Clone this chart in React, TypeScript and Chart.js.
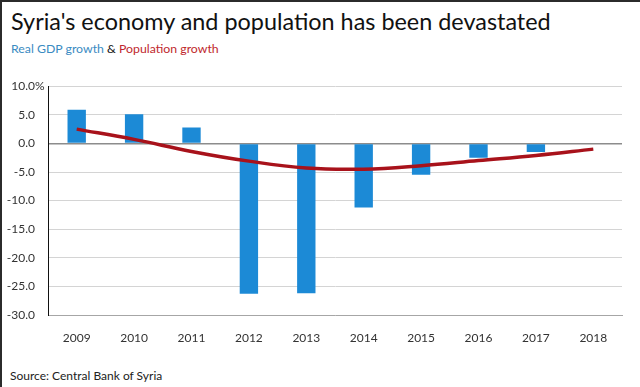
import React, { useEffect, useRef } from "react";
import { Chart, registerables } from "chart.js";

Chart.register(...registerables);

const years = ["2009", "2010", "2011", "2012", "2013", "2014", "2015", "2016", "2017", "2018"];
const gdpGrowth = [5.9, 5.1, 2.8, -26.3, -26.2, -11.2, -5.5, -2.5, -1.5, null];
const populationGrowth = [2.5, 0.7, -1.4, -3.1, -4.3, -4.5, -3.9, -3.0, -2.1, -1.0];
const yMin = -30;
const yMax = 10;
const yStep = 5;

const FONT = "Lato, 'Open Sans', sans-serif";

const percentPlugin = {
  id: "percentTop",
  afterDraw(chart: any) {
    const y = chart.scales.y;
    const ctx = chart.ctx;
    ctx.save();
    ctx.font = `12px ${FONT}`;
    ctx.fillStyle = "#333333";
    ctx.textAlign = "left";
    ctx.textBaseline = "middle";
    const px = y.getPixelForValue(yMax);
    const right = y.right - y.options.ticks.padding;
    ctx.fillText("%", right, px);
    ctx.restore();
  },
};

export default function App() {
  const ref = useRef<HTMLCanvasElement | null>(null);
  useEffect(() => {
    document.body.style.margin = "0";
    if (!ref.current) return;
    const chart = new Chart(ref.current, {
      type: "bar",
      data: {
        labels: years,
        datasets: [
          {
            type: "line",
            label: "Population growth",
            data: populationGrowth,
            borderColor: "#A8121B",
            borderWidth: 3.5,
            pointRadius: 0,
            tension: 0.4,
            fill: false,
            order: 0,
          } as any,
          {
            type: "bar",
            label: "Real GDP growth",
            data: gdpGrowth,
            backgroundColor: "#1C8AD6",
            borderWidth: 0,
            barPercentage: 0.32,
            categoryPercentage: 1,
            order: 1,
          },
        ],
      },
      options: {
        animation: false,
        responsive: false,
        maintainAspectRatio: false,
        layout: { padding: { left: 0, right: 18, top: 0, bottom: 0 } },
        plugins: {
          legend: { display: false },
          tooltip: { enabled: false },
          title: { display: false },
        },
        scales: {
          x: {
            grid: { display: false, drawTicks: false },
            border: { display: true, color: "#a6a6a6", width: 1 },
            ticks: {
              color: "#333333",
              font: { family: FONT, size: 12 },
              padding: 16,
              maxRotation: 0,
            },
            afterFit: (s: any) => {
              s.height = 45;
            },
          },
          y: {
            min: yMin,
            max: yMax,
            grid: {
              drawTicks: false,
              color: (c: any) => (c.tick && c.tick.value === 0 ? "#8c8c8c" : "#d4d4d4"),
              lineWidth: (c: any) => (c.tick && c.tick.value === 0 ? 1.5 : 1),
            },
            border: { display: true, color: "#111111", width: 1 },
            ticks: {
              stepSize: yStep,
              color: "#333333",
              font: { family: FONT, size: 12 },
              padding: 13,
              callback: (v: any) => Number(v).toFixed(1),
            },
            afterFit: (s: any) => {
              s.width = 48;
            },
          },
        },
      },
      plugins: [percentPlugin],
    });
    return () => chart.destroy();
  }, []);

  return (
    <div
      style={{
        position: "absolute",
        left: 0,
        top: 0,
        width: 640,
        height: 387,
        background: "#fff",
        borderLeft: "2px solid #2b2b2b",
        borderTop: "2px solid #2b2b2b",
        boxSizing: "border-box",
        overflow: "hidden",
        fontFamily: FONT,
      }}
    >
      <div
        style={{
          position: "absolute",
          left: 9,
          top: 4,
          fontSize: 23.4,
          color: "#111",
          whiteSpace: "nowrap",
          lineHeight: "30px",
        }}
      >
        Syria's economy and population has been devastated
      </div>
      <div
        style={{
          position: "absolute",
          left: 9,
          top: 39,
          fontSize: 12.3,
          whiteSpace: "nowrap",
          lineHeight: "16px",
        }}
      >
        <span style={{ color: "#3A8BC2" }}>Real GDP growth</span>
        <span style={{ color: "#111" }}> &amp; </span>
        <span style={{ color: "#C0272D" }}>Population growth</span>
      </div>
      <canvas
        ref={ref}
        width={640}
        height={294}
        style={{ position: "absolute", left: -2, top: 64, width: 640, height: 294 }}
      />
      <div
        style={{
          position: "absolute",
          left: 8,
          top: 366,
          fontSize: 12,
          color: "#222",
          whiteSpace: "nowrap",
          lineHeight: "16px",
        }}
      >
        Source: Central Bank of Syria
      </div>
    </div>
  );
}
